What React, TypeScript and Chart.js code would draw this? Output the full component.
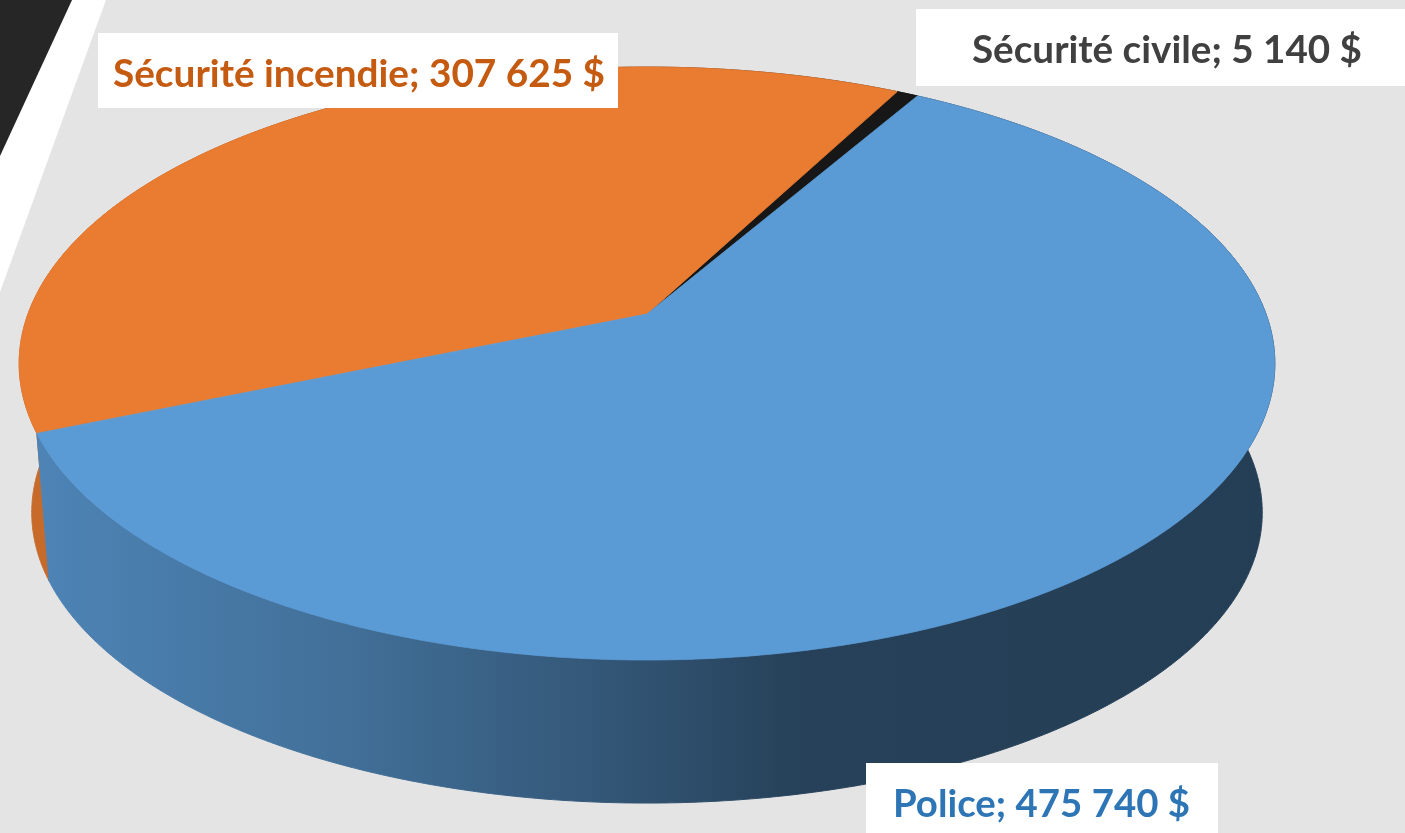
import React, { useEffect, useRef } from "react";
import { Chart, registerables } from "chart.js";

Chart.register(...registerables);

// ---- data ----
const categories = ["Police", "Sécurité incendie", "Sécurité civile"];
const values = [475740, 307625, 5140];
const currencySuffix = "$";

// ---- styles ----
const topColors = ["#5B9BD5", "#E97C31", "#171717"];
const sideBase = [
  [91, 155, 213],
  [233, 124, 49],
  [23, 23, 23],
];
const labelColors = ["#2E75B6", "#C55A11", "#404040"];
// label boxes: [left, top, right, bottom, textLeft, textRight]
const labelBoxes = [
  [866, 763, 1218, 840, 893, 1190],
  [98, 33, 618, 108, 113, 605],
  [916, 9, 1420, 86, 972, 1362],
];
const BG = "#E4E4E4";

// ---- projection (3D look) ----
const RX = 619;
const RY = 288.2;
const PERSP = 0.167;
const DEPTH = 150;
const BOTTOM_SCALE = 0.98;

function proj(theta: number, cx: number, cy: number, level: number): [number, number] {
  const U = Math.cos(theta);
  const V = -Math.sin(theta);
  const w = 1 + PERSP * V;
  const k = level ? BOTTOM_SCALE : 1;
  return [cx + (k * RX * U) / w, cy + (level ? DEPTH : 0) - (k * RY * V) / w];
}

function fmt(v: number) {
  return String(v).replace(/\B(?=(\d{3})+(?!\d))/g, " ");
}

const shadeStops: [number, number][] = [
  [0, 0.86],
  [0.03, 0.84],
  [0.25, 0.72],
  [0.45, 0.57],
  [0.62, 0.42],
  [1, 0.4],
];

const pie3d = {
  id: "pie3d",
  beforeDraw(chart: any) {
    const ctx = chart.ctx as CanvasRenderingContext2D;
    ctx.save();
    ctx.fillStyle = BG;
    ctx.fillRect(0, 0, chart.width, chart.height);
    // slide decoration
    ctx.fillStyle = "#FFFFFF";
    ctx.beginPath();
    ctx.moveTo(72, 0);
    ctx.lineTo(106, 0);
    ctx.lineTo(0, 292);
    ctx.lineTo(0, 155);
    ctx.closePath();
    ctx.fill();
    ctx.fillStyle = "#262626";
    ctx.beginPath();
    ctx.moveTo(0, 0);
    ctx.lineTo(72, 0);
    ctx.lineTo(0, 156);
    ctx.closePath();
    ctx.fill();
    ctx.restore();
  },
  beforeDatasetsDraw(chart: any) {
    const ctx = chart.ctx as CanvasRenderingContext2D;
    const meta = chart.getDatasetMeta(0);
    const arcs = meta.data as any[];
    if (!arcs.length) return false;
    const cx = arcs[0].x;
    const cy = arcs[0].y;
    const step = Math.PI / 720;

    const order = [2, 1, 0];
    // side walls
    for (const i of order) {
      const a = arcs[i];
      const a0 = a.startAngle;
      const a1 = a.endAngle;
      const n = Math.max(2, Math.ceil((a1 - a0) / step));
      ctx.beginPath();
      for (let j = 0; j <= n; j++) {
        const t = a0 + ((a1 - a0) * j) / n;
        const p = proj(t, cx, cy, 0);
        if (j === 0) ctx.moveTo(p[0], p[1]);
        else ctx.lineTo(p[0], p[1]);
      }
      for (let j = n; j >= 0; j--) {
        const t = a0 + ((a1 - a0) * j) / n;
        const p = proj(t, cx, cy, 1);
        ctx.lineTo(p[0], p[1]);
      }
      ctx.closePath();
      const g = ctx.createLinearGradient(cx - RX, 0, cx + RX + 10, 0);
      const b = sideBase[i];
      for (const [pos, f] of shadeStops) {
        g.addColorStop(pos, `rgb(${Math.round(b[0] * f)},${Math.round(b[1] * f)},${Math.round(b[2] * f)})`);
      }
      ctx.fillStyle = g;
      ctx.strokeStyle = g;
      ctx.lineWidth = 1;
      ctx.fill();
      ctx.stroke();
    }

    // top faces
    for (const i of order) {
      const a = arcs[i];
      const a0 = a.startAngle;
      const a1 = a.endAngle;
      const n = Math.max(2, Math.ceil((a1 - a0) / step));
      ctx.beginPath();
      ctx.moveTo(cx, cy);
      for (let j = 0; j <= n; j++) {
        const t = a0 + ((a1 - a0) * j) / n;
        const p = proj(t, cx, cy, 0);
        ctx.lineTo(p[0], p[1]);
      }
      ctx.closePath();
      ctx.fillStyle = topColors[i];
      ctx.strokeStyle = topColors[i];
      ctx.lineWidth = 0.8;
      ctx.fill();
      ctx.stroke();
    }
    return false;
  },
  afterDraw(chart: any) {
    const ctx = chart.ctx as CanvasRenderingContext2D;
    const labels = chart.data.labels as string[];
    const data = chart.data.datasets[0].data as number[];
    ctx.save();
    for (let i = 0; i < labels.length; i++) {
      const [l, t, r, bt, tl, tr] = labelBoxes[i];
      ctx.fillStyle = "#FFFFFF";
      ctx.fillRect(l, t, r - l, bt - t);
      const text = `${labels[i]}; ${fmt(data[i])} ${currencySuffix}`;
      ctx.font = "bold 38px Lato, 'Open Sans', sans-serif";
      const w = ctx.measureText(text).width;
      const sx = (tr - tl) / w;
      ctx.save();
      ctx.translate(tl, t + 54);
      ctx.scale(sx, 1);
      ctx.fillStyle = labelColors[i];
      ctx.textBaseline = "alphabetic";
      ctx.fillText(text, 0, 0);
      ctx.restore();
    }
    ctx.restore();
  },
};

export default function App() {
  const ref = useRef<HTMLCanvasElement | null>(null);
  useEffect(() => {
    document.body.style.margin = "0";
    document.body.style.background = BG;
    const canvas = ref.current;
    if (!canvas) return;
    const chart = new Chart(canvas, {
      type: "pie",
      data: {
        labels: categories,
        datasets: [
          {
            data: values,
            backgroundColor: topColors,
            borderWidth: 0,
          },
        ],
      },
      options: {
        responsive: false,
        devicePixelRatio: 1,
        animation: false,
        events: [],
        rotation: 30,
        layout: { padding: { left: 0, right: 111, top: 0, bottom: 205 } },
        plugins: {
          legend: { display: false },
          tooltip: { enabled: false },
        },
      },
      plugins: [pie3d],
    } as any);
    return () => chart.destroy();
  }, []);
  return (
    <div style={{ width: 1405, height: 833, overflow: "hidden" }}>
      <canvas ref={ref} width={1405} height={833} style={{ display: "block" }} />
    </div>
  );
}
